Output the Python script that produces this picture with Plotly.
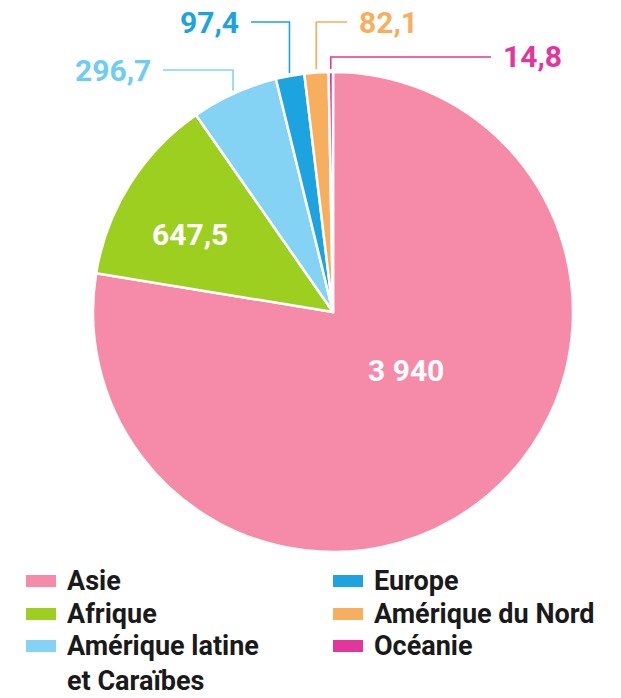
import math
import plotly.graph_objects as go

W, H = 621, 698

regions = ["Asie", "Afrique", "Amérique latine et Caraïbes", "Europe", "Amérique du Nord", "Océanie"]
values = [3940, 647.5, 296.7, 97.4, 82.1, 14.8]
value_labels = ["3 940", "647,5", "296,7", "97,4", "82,1", "14,8"]
colors = ["#F58BA8", "#9DCF21", "#84D3F5", "#1DA3E0", "#F7AE5E", "#E2359E"]
text_colors = ["white", "white", "#6FCDF3", "#1DA3E0", "#F7AE5E", "#E2359E"]

legend_labels = ["Asie", "Afrique", "Amérique latine<br>et Caraïbes", "Europe", "Amérique du Nord", "Océanie"]

FONT = "Roboto"

# pie geometry in pixels
cx, cy, r = 333, 312, 240


def px(x):
  return x / W


def py(y):
  return 1 - y / H


fig = go.Figure(go.Pie(
  labels=regions,
  values=values,
  sort=False,
  direction="clockwise",
  rotation=0,
  textinfo="none",
  hoverinfo="label+value",
  marker=dict(colors=colors, line=dict(color="white", width=2.5)),
  domain=dict(x=[px(cx - r), px(cx + r)], y=[py(cy + r), py(cy - r)]),
  showlegend=False,
))

annotations = []
shapes = []

# labels inside the two big slices
inside_pos = {0: (406, 370), 1: (190, 234)}
for i, (x, y) in inside_pos.items():
  annotations.append(dict(
    x=px(x), y=py(y), xref="paper", yref="paper", text=value_labels[i],
    showarrow=False, xanchor="center", yanchor="middle",
    font=dict(family=FONT, size=30, color=text_colors[i], weight="bold"),
  ))

# outside labels: (label line y, line end x, side)
outside = {2: (70, 163, "left"), 3: (22, 251, "left"), 4: (22, 347, "right"), 5: (57, 491, "right")}
total = sum(values)
cum = 0
for i, v in enumerate(values):
  mid = (cum + v / 2) / total * 2 * math.pi
  cum += v
  if i not in outside:
    continue
  ly, ex, side = outside[i]
  sx = cx + (r + 3) * math.sin(mid)
  sy = cy - (r + 3) * math.cos(mid)
  path = f"M {px(sx)},{py(sy)} L {px(sx)},{py(ly)} L {px(ex)},{py(ly)}"
  shapes.append(dict(type="path", path=path, xref="paper", yref="paper",
                     line=dict(color=colors[i], width=1.6)))
  if side == "left":
    tx, anchor = ex - 10, "right"
  else:
    tx, anchor = ex + 10, "left"
  annotations.append(dict(
    x=px(tx), y=py(ly), xref="paper", yref="paper", text=value_labels[i],
    showarrow=False, xanchor=anchor, yanchor="middle",
    font=dict(family=FONT, size=30, color=text_colors[i], weight="bold"),
  ))

# legend drawn by hand: two columns of three rows
LEG_SIZE = 27
col_x = [26, 333]
row_y = [581, 614, 646]
for i, lab in enumerate(legend_labels):
  col, row = divmod(i, 3)
  x0, y0 = col_x[col], row_y[row]
  shapes.append(dict(type="rect", xref="paper", yref="paper",
                     x0=px(x0), x1=px(x0 + 30), y0=py(y0 - 6), y1=py(y0 + 6),
                     fillcolor=colors[i], line=dict(width=0)))
  half_line = 0.65 * LEG_SIZE
  annotations.append(dict(
    x=px(x0 + 39), y=py(y0 - half_line), xref="paper", yref="paper", text=lab,
    showarrow=False, xanchor="left", yanchor="top", align="left",
    font=dict(family=FONT, size=LEG_SIZE, color="#1a1a1a", weight="bold"),
  ))

fig.update_layout(
  width=W,
  height=H,
  margin=dict(l=0, r=0, t=0, b=0),
  paper_bgcolor="white",
  plot_bgcolor="white",
  shapes=shapes,
  annotations=annotations,
)

fig.write_html("out.html", config={"displayModeBar": False},
               post_script="document.body.style.margin='0';")
